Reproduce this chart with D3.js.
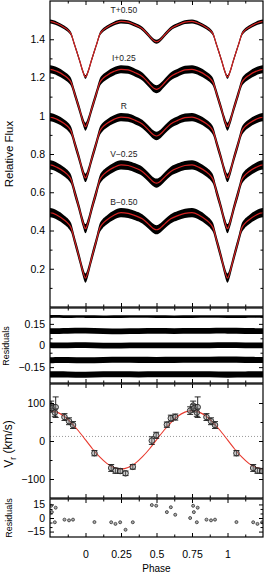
<!DOCTYPE html>
<html>
<head>
<meta charset="utf-8">
<script src="https://cdnjs.cloudflare.com/ajax/libs/d3/7.8.5/d3.min.js"></script>
<style>
  body { margin: 0; background: #fff; }
  svg { display: block; }
</style>
</head>
<body>
<div id="chart"></div>
<script>
// ---- light curves: half-cycle profiles (phase 0 -> 0.5), unshifted flux
const lcPhase = [0, 0.02, 0.04, 0.06, 0.08, 0.10, 0.12, 0.15, 0.20, 0.25, 0.30, 0.35, 0.40, 0.44, 0.47, 0.485, 0.50];
const lcT = [0.703, 0.735, 0.785, 0.832, 0.878, 0.925, 0.945, 0.962, 0.982, 0.993, 0.990, 0.975, 0.955, 0.925, 0.900, 0.891, 0.887];
const lcI = [0.693, 0.726, 0.778, 0.826, 0.874, 0.922, 0.943, 0.961, 0.982, 0.993, 0.990, 0.975, 0.955, 0.925, 0.901, 0.892, 0.888];
const lcR = [0.675, 0.710, 0.765, 0.816, 0.867, 0.918, 0.940, 0.959, 0.981, 0.993, 0.990, 0.976, 0.957, 0.929, 0.906, 0.898, 0.894];
const lcV = [0.660, 0.697, 0.754, 0.808, 0.860, 0.914, 0.937, 0.957, 0.980, 0.993, 0.990, 0.977, 0.959, 0.932, 0.909, 0.901, 0.898];
const lcB = [0.651, 0.689, 0.747, 0.803, 0.857, 0.912, 0.935, 0.955, 0.980, 0.993, 0.990, 0.978, 0.961, 0.936, 0.915, 0.907, 0.904];
const bandLabels = ['T+0.50', 'I+0.25', 'R', 'V\u22120.25', 'B\u22120.50'];
const bandOffsets = [0.5, 0.25, 0, -0.25, -0.5];
const bandScatter = [0.010, 0.021, 0.022, 0.024, 0.024];

// ---- light-curve residuals (band centres offset, small wobble)
const resOffsets = [0.2, 0.1, 0, -0.1, -0.2];
const resPhase = [-0.25, -0.125, 0, 0.125, 0.25, 0.375, 0.5, 0.625, 0.75, 0.875, 1, 1.125, 1.25];
const resT = [0.002, 0, 0.001, -0.001, 0, 0.001, 0, -0.001, 0, 0.001, 0, 0, 0.001];
const resI = [0, 0.002, 0.004, 0, -0.002, 0, 0.001, 0, 0.001, 0.002, 0.003, 0, 0];
const resR = [0.002, 0, 0.004, -0.002, 0, 0.001, 0, 0.002, 0, 0.001, 0.003, 0, 0.001];
const resV = [-0.002, 0, -0.004, 0, 0.002, 0, -0.001, 0, 0.002, 0, 0.003, 0, -0.001];
const resB = [0, 0, -0.005, 0.002, 0, -0.001, 0, 0.002, 0, 0.001, -0.003, 0, 0];
const resScatter = [0.009, 0.02, 0.02, 0.021, 0.021];

// ---- radial velocities (phase in [0,1), km/s)
const rvPhase = [0.063, 0.181, 0.211, 0.244, 0.282, 0.333, 0.467, 0.498, 0.573, 0.601, 0.632, 0.737, 0.758, 0.763, 0.784, 0.790, 0.852, 0.884, 0.912];
const rvVel   = [-32, -71, -78, -79, -85, -68, 1, 15, 43, 60, 63, 80, 93, 86, 75, 89, 63, 52, 42];
const rvErr   = [7, 9, 7, 6, 6, 6, 10, 8, 7, 8, 8, 10, 12, 10, 10, 27, 9, 9, 9];
const rvRes   = [-4.5, -4.7, -6.5, -4.7, -13, -4.7, 14.3, 13.6, 6.5, 11.9, 3.6, 0, 13.5, 6.5, -4.7, 11.4, -1.8, -2.6, -1.8];
const rvModelPhase = [-0.25, -0.2, -0.15, -0.1, -0.05, 0, 0.05, 0.1, 0.15, 0.2, 0.25, 0.3, 0.35, 0.4, 0.45, 0.5,
                      0.55, 0.6, 0.65, 0.7, 0.75, 0.8, 0.85, 0.9, 0.95, 1, 1.05, 1.1, 1.15, 1.2, 1.25];
const rvModel = [80, 76, 65, 48, 27, 3, -21, -42, -59, -70, -74, -70, -59, -42, -21, 3,
                 27, 48, 65, 76, 80, 76, 65, 48, 27, 3, -21, -42, -59, -70, -74];
const gammaVel = 12;

// ---- ticks
const xMajor = [0, 0.25, 0.5, 0.75, 1];
const xMinor = [-0.125, 0.125, 0.375, 0.625, 0.875, 1.125];
const lcTicks = [0.2, 0.4, 0.6, 0.8, 1, 1.2, 1.4];
const lcMinor = [0.1, 0.3, 0.5, 0.7, 0.9, 1.1, 1.3, 1.5];
const resTicks = [-0.15, 0, 0.15];
const resMinor = [-0.2, -0.1, -0.05, 0.05, 0.1, 0.2];
const rvTicks = [-100, 0, 100];
const rvMinor = [-50, 50];
const rvResTicks = [-15, 0, 15];
const rvResMinor = [-10, -5, 5, 10];

const FONT = "'Liberation Sans', Arial, Helvetica, sans-serif";
const RED = '#d42222';
const W = 268, H = 572, L = 50, R = 263;

const svg = d3.select('#chart').append('svg')
  .attr('width', W).attr('height', H)
  .attr('viewBox', `0 0 ${W} ${H}`);

const x = d3.scaleLinear().domain([-0.25, 1.25]).range([L, R]);

const panels = [
  { id: 'lc',    top: 1,   bottom: 307, domain: [0, 1.6],       major: lcTicks,    minor: lcMinor },
  { id: 'lcres', top: 308, bottom: 383, domain: [-0.26, 0.26],  major: resTicks,   minor: resMinor },
  { id: 'rv',    top: 384, bottom: 498, domain: [-150, 150],    major: rvTicks,    minor: rvMinor },
  { id: 'rvres', top: 499, bottom: 537, domain: [-21, 21],      major: rvResTicks, minor: rvResMinor }
];
panels.forEach(p => {
  p.y = d3.scaleLinear().domain(p.domain).range([p.bottom, p.top]);
  svg.append('clipPath').attr('id', 'clip-' + p.id)
    .append('rect').attr('x', L).attr('y', p.top).attr('width', R - L).attr('height', p.bottom - p.top);
  p.g = svg.append('g').attr('clip-path', `url(#clip-${p.id})`);
});
const [pLC, pRes, pRV, pRVres] = panels;

const fmt = d => d < 0 ? '\u2212' + String(Math.abs(d)) : String(d);

// fold a half-cycle profile into a periodic curve over the plotted range
function fold(phases, vals) {
  const cycle = [];
  phases.forEach((ph, i) => {
    cycle.push([ph, vals[i]]);
    if (ph > 0 && ph < 0.5) cycle.push([1 - ph, vals[i]]);
  });
  const out = [];
  [-1, 0, 1].forEach(k => cycle.forEach(d => out.push([d[0] + k, d[1]])));
  out.sort((a, b) => a[0] - b[0]);
  return out.filter((d, i) => d[0] >= -0.35 && d[0] <= 1.35 && (i === 0 || d[0] !== out[i - 1][0]));
}

// ---- light curves
const lcSets = [lcT, lcI, lcR, lcV, lcB];
const lcCurves = lcSets.map(v => fold(lcPhase, v));
lcCurves.forEach((c, i) => {
  const off = bandOffsets[i], s = bandScatter[i];
  pLC.g.append('path')
    .datum(c)
    .attr('fill', '#000')
    .attr('d', d3.area()
      .x(d => x(d[0]))
      .y0(d => pLC.y(d[1] + off - s))
      .y1(d => pLC.y(d[1] + off + s))
      .curve(d3.curveMonotoneX));
});
lcCurves.forEach((c, i) => {
  const off = bandOffsets[i];
  pLC.g.append('path')
    .datum(c)
    .attr('fill', 'none')
    .attr('stroke', RED)
    .attr('stroke-width', 1.2)
    .attr('d', d3.line().x(d => x(d[0])).y(d => pLC.y(d[1] + off)).curve(d3.curveMonotoneX));
});
bandLabels.forEach((t, i) => {
  svg.append('text')
    .attr('x', x(0.27))
    .attr('y', pLC.y(1.035 + bandOffsets[i]))
    .attr('text-anchor', 'middle')
    .style('font-family', FONT).style('font-size', '8.5px').style('fill', '#222')
    .text(t);
});

// ---- light-curve residuals
[resT, resI, resR, resV, resB].forEach((vals, i) => {
  const off = resOffsets[i], s = resScatter[i];
  pRes.g.append('path')
    .datum(vals.map((v, j) => [resPhase[j], v]))
    .attr('fill', '#000')
    .attr('d', d3.area()
      .x(d => x(d[0]))
      .y0(d => pRes.y(d[1] + off - s))
      .y1(d => pRes.y(d[1] + off + s))
      .curve(d3.curveBasis));
});

// ---- radial velocities
pRV.g.append('line')
  .attr('x1', L).attr('x2', R)
  .attr('y1', pRV.y(gammaVel)).attr('y2', pRV.y(gammaVel))
  .attr('stroke', '#999').attr('stroke-width', 1).attr('stroke-dasharray', '1,2');

pRV.g.append('path')
  .datum(rvModelPhase.map((ph, i) => [ph, rvModel[i]]))
  .attr('fill', 'none').attr('stroke', '#e8392e').attr('stroke-width', 1.1)
  .attr('d', d3.line().x(d => x(d[0])).y(d => pRV.y(d[1])).curve(d3.curveNatural));

// repeat each observation one cycle either side where it falls in range
const rvPts = [];
rvPhase.forEach((ph, i) => {
  [-1, 0, 1].forEach(k => {
    const p = ph + k;
    if (p >= -0.26 && p <= 1.26) rvPts.push({ p, v: rvVel[i], e: rvErr[i], r: rvRes[i] });
  });
});

const eb = pRV.g.append('g').attr('stroke', '#111').attr('stroke-width', 0.9);
rvPts.forEach(d => {
  const cx = x(d.p);
  eb.append('line').attr('x1', cx).attr('x2', cx).attr('y1', pRV.y(d.v - d.e)).attr('y2', pRV.y(d.v + d.e));
  eb.append('line').attr('x1', cx - 3).attr('x2', cx + 3).attr('y1', pRV.y(d.v - d.e)).attr('y2', pRV.y(d.v - d.e));
  eb.append('line').attr('x1', cx - 3).attr('x2', cx + 3).attr('y1', pRV.y(d.v + d.e)).attr('y2', pRV.y(d.v + d.e));
});
pRV.g.selectAll('circle.rv').data(rvPts).join('circle')
  .attr('class', 'rv')
  .attr('cx', d => x(d.p)).attr('cy', d => pRV.y(d.v)).attr('r', 2.8)
  .attr('fill', 'rgba(140,140,140,0.45)').attr('stroke', '#222').attr('stroke-width', 0.9);

pRVres.g.selectAll('circle.res').data(rvPts).join('circle')
  .attr('class', 'res')
  .attr('cx', d => x(d.p)).attr('cy', d => pRVres.y(d.r)).attr('r', 1.5)
  .attr('fill', '#aaa').attr('stroke', '#333').attr('stroke-width', 0.8);

// ---- frames and ticks (gnuplot-like: inward, mirrored)
function styleAxis(sel) {
  sel.select('.domain').remove();
  sel.selectAll('line').attr('stroke', '#000').attr('stroke-width', 1);
  sel.selectAll('text').style('font-family', FONT).style('font-size', '10.5px').style('fill', '#000');
}
panels.forEach((p, idx) => {
  const last = idx === panels.length - 1;
  svg.append('g').attr('transform', `translate(0,${p.top})`)
    .call(d3.axisTop(x).tickValues(xMajor).tickSize(-4).tickFormat('')).call(styleAxis);
  svg.append('g').attr('transform', `translate(0,${p.top})`)
    .call(d3.axisTop(x).tickValues(xMinor).tickSize(-2.5).tickFormat('')).call(styleAxis);
  svg.append('g').attr('transform', `translate(0,${p.bottom})`)
    .call(d3.axisBottom(x).tickValues(xMajor).tickSize(-4).tickPadding(14)
      .tickFormat(last ? fmt : '')).call(styleAxis);
  svg.append('g').attr('transform', `translate(0,${p.bottom})`)
    .call(d3.axisBottom(x).tickValues(xMinor).tickSize(-2.5).tickFormat('')).call(styleAxis);

  svg.append('g').attr('transform', `translate(${L},0)`)
    .call(d3.axisLeft(p.y).tickValues(p.major).tickSize(-4).tickPadding(5).tickFormat(fmt)).call(styleAxis);
  svg.append('g').attr('transform', `translate(${L},0)`)
    .call(d3.axisLeft(p.y).tickValues(p.minor).tickSize(-2.5).tickFormat('')).call(styleAxis);
  svg.append('g').attr('transform', `translate(${R},0)`)
    .call(d3.axisRight(p.y).tickValues(p.major).tickSize(-4).tickFormat('')).call(styleAxis);
  svg.append('g').attr('transform', `translate(${R},0)`)
    .call(d3.axisRight(p.y).tickValues(p.minor).tickSize(-2.5).tickFormat('')).call(styleAxis);

  svg.append('rect')
    .attr('x', L).attr('y', p.top).attr('width', R - L).attr('height', p.bottom - p.top)
    .attr('fill', 'none').attr('stroke', '#000').attr('stroke-width', 1.2);
});

// ---- axis titles
function vLabel(txt, cx, cy, size) {
  return svg.append('text')
    .attr('transform', `translate(${cx},${cy}) rotate(-90)`)
    .attr('text-anchor', 'middle')
    .style('font-family', FONT).style('font-size', size).style('fill', '#000')
    .text(txt);
}
vLabel('Relative Flux', 13, 154, '11.5px');
vLabel('Residuals', 8.5, 346, '9px');
vLabel('Residuals', 12, 518, '9px');
const vr = svg.append('text')
  .attr('transform', 'translate(13,444) rotate(-90)')
  .attr('text-anchor', 'middle')
  .style('font-family', FONT).style('font-size', '12px').style('fill', '#000');
vr.append('tspan').text('V');
vr.append('tspan').attr('dy', '0.3em').style('font-size', '8.5px').text('r');
vr.append('tspan').attr('dy', '-0.3em').text(' (km/s)');

svg.append('text')
  .attr('x', (L + R) / 2).attr('y', 571.5)
  .attr('text-anchor', 'middle')
  .style('font-family', FONT).style('font-size', '10px').style('fill', '#000')
  .text('Phase');
</script>
</body>
</html>
